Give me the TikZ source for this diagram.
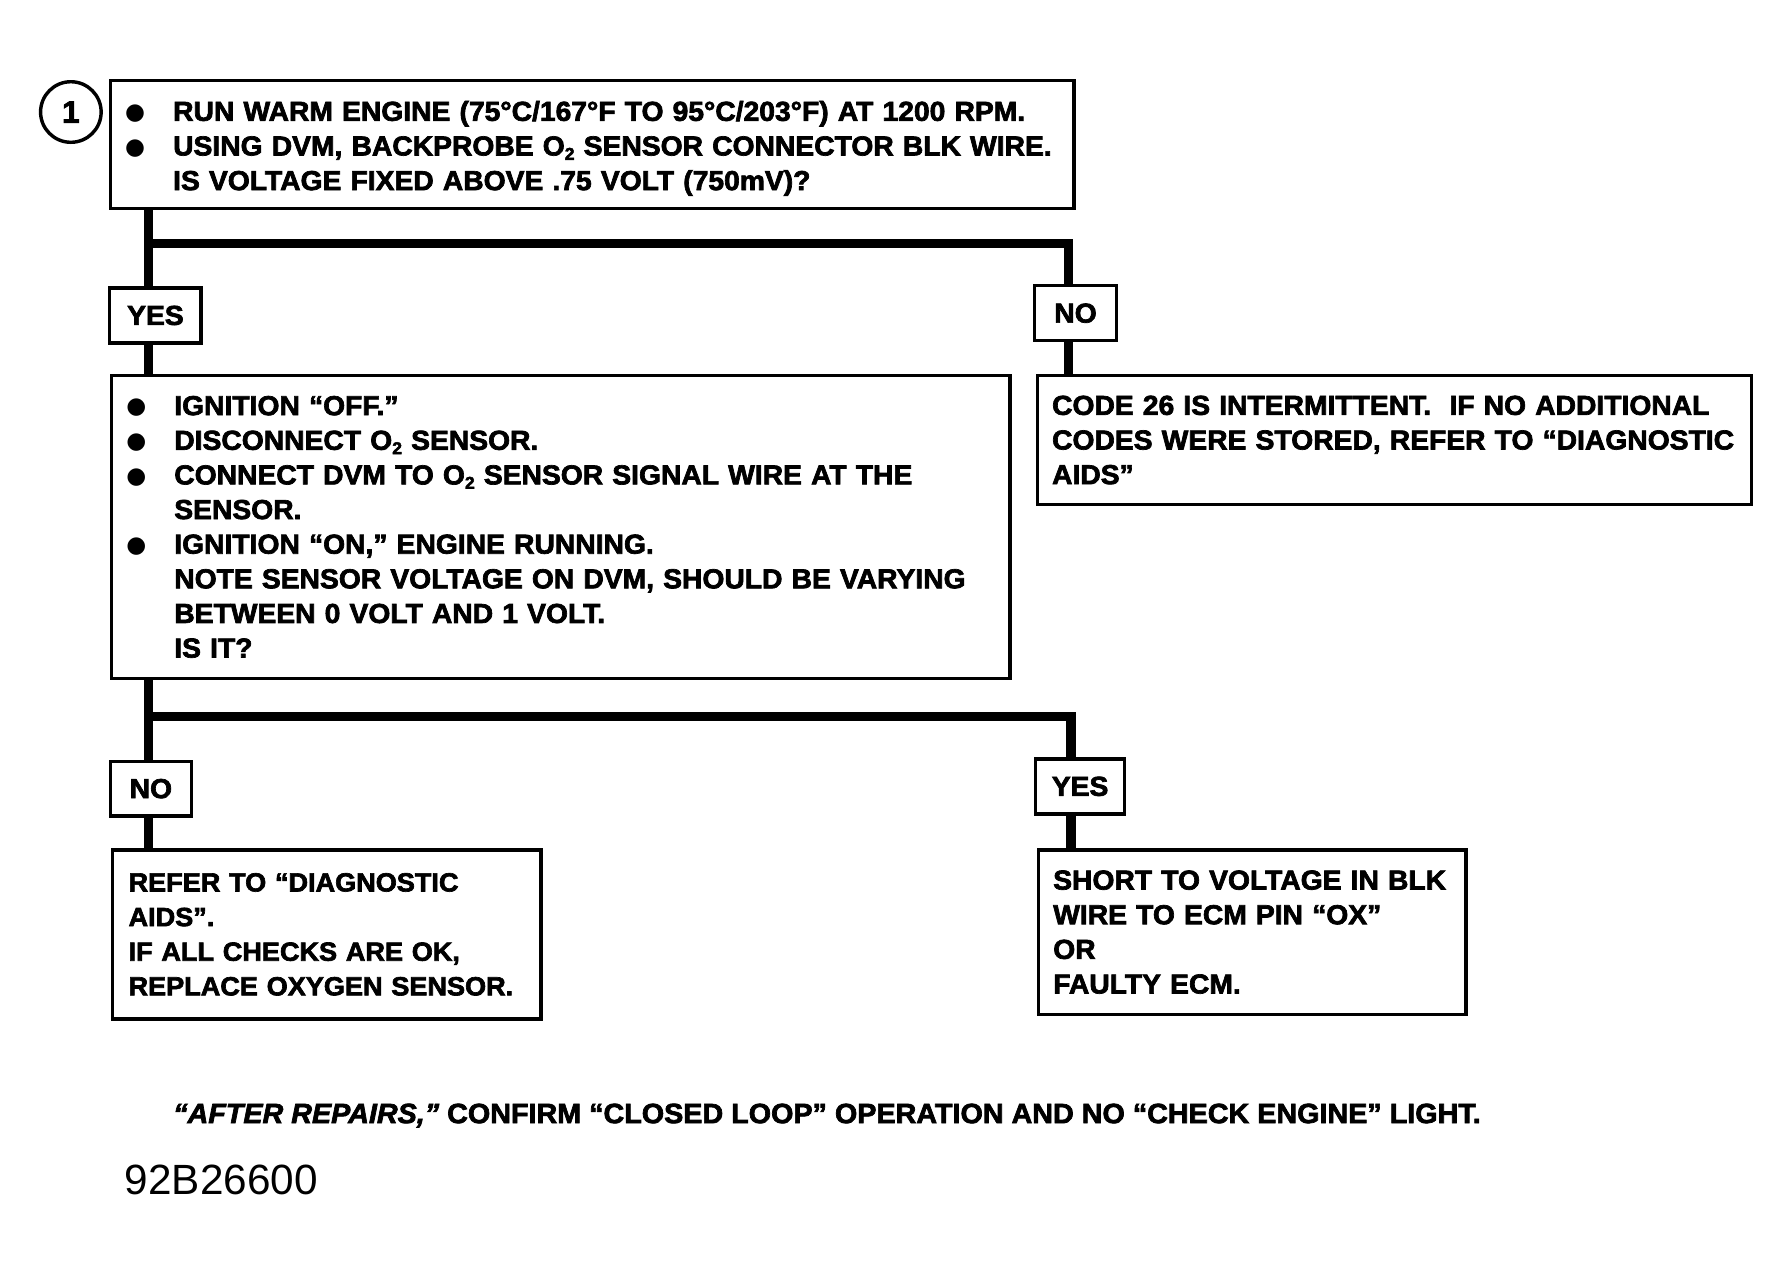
\documentclass[tikz,border=0pt]{standalone}
\usepackage{fontspec}
\setmainfont{Liberation Sans}
\newfontfamily\chartfont{Liberation Sans}[FakeStretch=1.03,FakeBold=2.5]
\newfontfamily\symfont{DejaVu Sans}
\newcommand\bitem{\makebox[38pt][l]{\hspace*{-4pt}\symfont\fontsize{20}{20}\selectfont\raisebox{1pt}{●}}}
\newcommand\cont{\hspace*{38pt}}
\newcommand\lowtwo{\raisebox{-0.3ex}{\fontsize{15}{15}\selectfont 2}}
\begin{document}
\begin{tikzpicture}
[x=1pt,y=-1pt,
  chartbox/.style={draw,line width=3pt,anchor=north west,align=left,inner ysep=0pt,
    font=\chartfont\bfseries\fontsize{24}{30.3}\selectfont},%
  answerbox/.style={draw,line width=3pt,inner sep=0pt,minimum height=48pt,
    font=\chartfont\bfseries\fontsize{24}{24}\selectfont},%
  barline/.style={-,line width=8pt}]
\useasboundingbox (0,0) rectangle (1560,1106);
%% step number
\node (step1) at (62,98) [draw,circle,line width=3pt,minimum size=53pt,inner sep=0pt,
  font=\chartfont\bfseries\fontsize{27}{27}\selectfont] {1};
%% question and result boxes
\node (check1) at (95,69) [chartbox,inner xsep=17pt,text width=809pt,minimum height=112pt]
  {\rule{0pt}{24pt}\bitem RUN WARM ENGINE (75°C/167°F TO 95°C/203°F) AT 1200 RPM.\\
   \bitem USING DVM, BACKPROBE O\lowtwo{} SENSOR CONNECTOR BLK WIRE.\\
   \cont IS VOLTAGE FIXED ABOVE .75 VOLT (750mV)?};
\node (check2) at (96,327) [chartbox,inner xsep=17pt,text width=752pt,minimum height=265pt]
  {\bitem IGNITION “OFF.”\\
   \bitem DISCONNECT O\lowtwo{} SENSOR.\\
   \bitem CONNECT DVM TO O\lowtwo{} SENSOR SIGNAL WIRE AT THE\\
   \cont SENSOR.\\
   \bitem IGNITION “ON,” ENGINE RUNNING.\\
   \cont NOTE SENSOR VOLTAGE ON DVM, SHOULD BE VARYING\\
   \cont BETWEEN 0 VOLT AND 1 VOLT.\\
   \cont IS IT?};
\node (code26) at (906,327) [chartbox,inner xsep=13pt,text width=599pt,minimum height=113pt]
  {\mbox{CODE 26 IS INTERMITTENT.\ \ IF NO ADDITIONAL}\\
   \mbox{CODES WERE STORED, REFER TO “DIAGNOSTIC}\\
   AIDS”};
\node (diagaids) at (97,742) [chartbox,inner xsep=14pt,text width=347pt,minimum height=148pt,
  font=\chartfont\bfseries\fontsize{23}{30.3}\selectfont]
  {REFER TO “DIAGNOSTIC\\
   AIDS”.\\
   IF ALL CHECKS ARE OK,\\
   \mbox{REPLACE OXYGEN SENSOR.}};
\node (faultyecm) at (907,742) [chartbox,inner xsep=13pt,text width=348pt,minimum height=144pt]
  {SHORT TO VOLTAGE IN BLK\\
   WIRE TO ECM PIN “OX”\\
   OR\\
   FAULTY ECM.};
%% answer labels
\foreach \nodename/\x/\y/\w/\answer in {yes1/136/276/80/YES, no1/941/274/72/NO,
    no2/132/690/71/NO, yes2/945/688/78/YES} {
  \node (\nodename) at (\x,\y) [answerbox,minimum width=\w pt] {\answer};
}
%% branch lines
\coordinate (fork1) at (130,213);
\coordinate (fork2) at (130,627);
\coordinate (drop1) at (935,213);
\coordinate (drop2) at (937,627);
\draw[barline] (check1.south -| fork1) -- (yes1.north -| fork1);
\draw[barline] (yes1.south -| fork1) -- (check2.north -| fork1);
\draw[barline] ([xshift=-4pt]fork1) -| (no1.north -| drop1);
\draw[barline] (no1.south -| drop1) -- (code26.north -| drop1);
\draw[barline] (check2.south -| fork2) -- (no2.north -| fork2);
\draw[barline] (no2.south -| fork2) -- (diagaids.north -| fork2);
\draw[barline] ([xshift=-4pt]fork2) -| (yes2.north -| drop2);
\draw[barline] (yes2.south -| drop2) -- (faultyecm.north -| drop2);
%% footer
\node (afterrepairs) at (148,976) [anchor=west,font=\chartfont\bfseries\fontsize{24.4}{24.4}\selectfont]
  {{\itshape “AFTER REPAIRS,”} CONFIRM “CLOSED LOOP” OPERATION AND NO “CHECK ENGINE” LIGHT.};
\node (fignum) at (109,1032) [anchor=west,inner sep=0pt,font=\fontsize{37}{37}\selectfont] {92B26600};
\end{tikzpicture}
\end{document}
